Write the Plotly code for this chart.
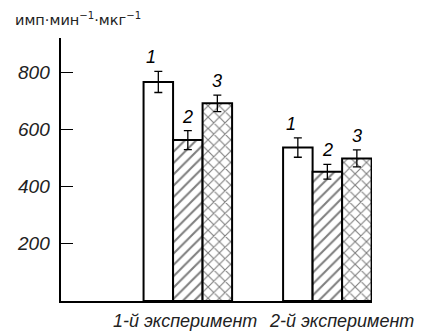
import plotly.graph_objects as go

# Data: activity for three preparations in two experiments
experiments = ["1-й эксперимент", "2-й эксперимент"]
series_names = ["1", "2", "3"]
values_1 = [768, 538]
values_2 = [564, 453]
values_3 = [693, 500]
errors_1 = [37, 34]
errors_2 = [33, 26]
errors_3 = [29, 30]
y_ticks = [200, 400, 600, 800]
y_title = "имп·мин<sup>−1</sup>·мкг<sup>−1</sup>"

series_values = [values_1, values_2, values_3]
series_errors = [errors_1, errors_2, errors_3]

# styling
group_x = [1, 2]
bar_w = 0.2115
patterns = ["", "/", "x"]
pattern_sizes = [8, 8, 8]
pattern_solidity = [0, 0.26, 0.26]
label_xshift = [-7, 0, 0]
ITALIC = "Liberation Sans, Arial, sans-serif"

fig = go.Figure()
for i, (vals, errs) in enumerate(zip(series_values, series_errors)):
    offset = (i - 1.5) * bar_w
    marker = dict(color="white", line=dict(color="black", width=2))
    if patterns[i]:
        marker["pattern"] = dict(shape=patterns[i], fgcolor="black", bgcolor="white",
                                 size=pattern_sizes[i], solidity=pattern_solidity[i])
    fig.add_trace(go.Bar(
        x=group_x, y=vals, width=bar_w, offset=offset,
        marker=marker, name=series_names[i], showlegend=False,
        error_y=dict(type="data", array=errs, color="black", thickness=1.3, width=4),
    ))
    for gx, v, e in zip(group_x, vals, errs):
        fig.add_annotation(
            x=gx + offset + bar_w / 2, y=v + e, text=series_names[i],
            showarrow=False, yanchor="bottom", yshift=2, xshift=label_xshift[i],
            font=dict(family=ITALIC, size=18, color="black", style="italic"),
        )

# y tick labels, italic
for t in y_ticks:
    fig.add_annotation(
        xref="paper", x=0, y=t, text=str(t), showarrow=False,
        xanchor="right", xshift=-9,
        font=dict(family=ITALIC, size=19, color="#222", style="italic"),
    )

# category labels under the groups
cat_x = [0.98, 2.1]
for cx, name in zip(cat_x, experiments):
    fig.add_annotation(
        x=cx, y=0, text=name, showarrow=False, yanchor="top", yshift=-8,
        font=dict(family=ITALIC, size=18, color="#222", style="italic"),
    )

fig.add_annotation(
    xref="paper", yref="paper", x=-0.155, y=1.0, xanchor="left", yanchor="bottom",
    yshift=8, text=y_title, showarrow=False,
    font=dict(family="DejaVu Sans", size=14.5, color="#222"),
)

fig.update_layout(
    width=424, height=334,
    margin=dict(l=61, r=52, t=38, b=33),
    paper_bgcolor="white", plot_bgcolor="white",
    barmode="overlay",
    xaxis=dict(range=[0.091, 2.32], showticklabels=False, ticks="",
               showgrid=False, zeroline=False, showline=True,
               linecolor="black", linewidth=1.5),
    yaxis=dict(range=[0, 922], tickvals=y_ticks, ticks="inside", ticklen=12,
               tickcolor="black", tickwidth=1.2, showgrid=False, zeroline=False,
               showline=True, linecolor="black", linewidth=1.5,
               showticklabels=False),
)

fig.write_html("out.html")
